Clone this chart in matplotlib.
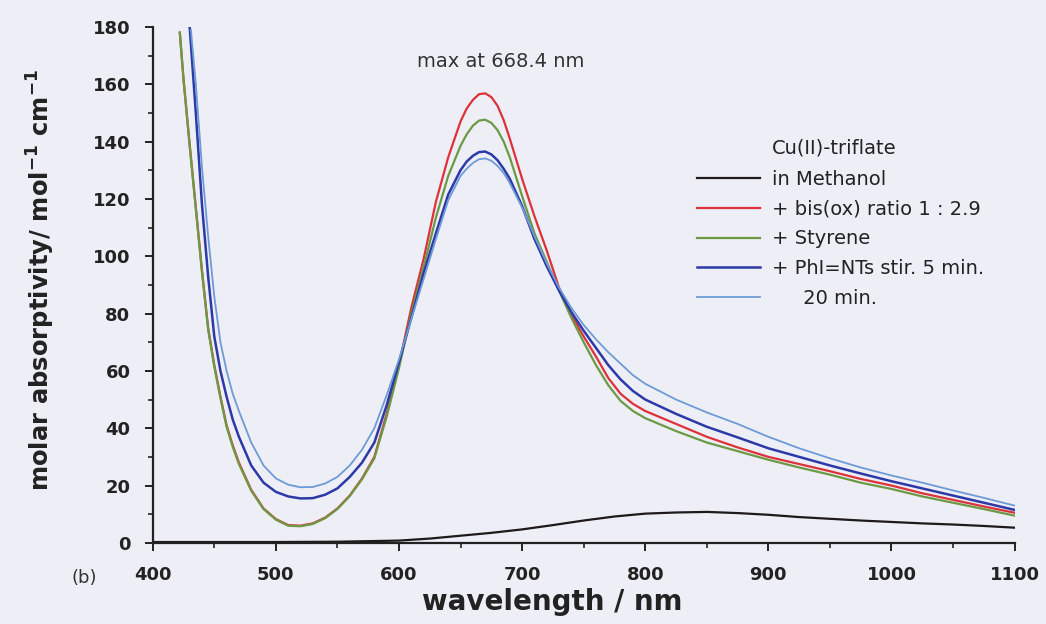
import matplotlib
matplotlib.use("Agg")
import matplotlib.pyplot as plt
from matplotlib.ticker import MultipleLocator

plt.rcParams['font.family'] = ['DejaVu Sans']
plt.rcParams['mathtext.fontset'] = 'dejavusans'
plt.rcParams['mathtext.default'] = 'bf'

# spectra (wavelength nm, molar absorptivity)
wl_black = [400, 450, 500, 550, 600, 625, 650, 675, 700, 725, 750, 775, 800,
            825, 850, 875, 900, 925, 950, 975, 1000, 1025, 1050, 1075, 1100]
eps_black = [0.3, 0.3, 0.3, 0.4, 0.8, 1.5, 2.5, 3.5, 4.7, 6.2, 7.8, 9.2, 10.2,
             10.6, 10.8, 10.4, 9.8, 9.0, 8.4, 7.8, 7.3, 6.8, 6.4, 5.9, 5.3]

# common grid from 600 nm on
wl_tail = [600, 610, 620, 630, 640, 650, 655, 660, 665, 670, 675, 680, 685, 690,
           700, 710, 720, 730, 740, 750, 760, 770, 780, 790, 800, 825, 850, 875,
           900, 925, 950, 975, 1000, 1025, 1050, 1075, 1100]

wl_red_left = [422, 425, 430, 435, 440, 445, 450, 455, 460, 465, 470, 480, 490,
               500, 510, 520, 530, 540, 550, 560, 570, 580, 590]
eps_red_left = [178, 162, 139, 117, 95, 75, 62, 51, 41, 34, 28, 18.5, 12,
                8.3, 6.2, 6, 6.8, 8.8, 12, 16.5, 22.5, 30, 45]
eps_red_tail = [62, 82, 99, 119, 134.5, 147, 151.5, 154.5, 156.5, 156.8, 155.5, 152.5, 147.5, 141,
                127, 114, 102, 89, 79.5, 72, 65, 57.5, 52, 48.5, 46, 41.5, 37, 33.3,
                30, 27.5, 25, 22.3, 20, 17.3, 15, 12.7, 10.5]

wl_green_left = wl_red_left
eps_green_left = [178, 161.5, 138.5, 116.5, 94.5, 74.5, 61.5, 50.5, 40.5, 33.5, 27.5, 18.2, 11.8,
                  8.1, 6.0, 5.8, 6.6, 8.6, 11.8, 16.3, 22.2, 29.5, 44]
eps_green_tail = [61, 80, 96, 113.5, 128, 138.5, 142.5, 145.5, 147.3, 147.6, 146.5, 144, 140, 134.5,
                  121, 108, 98, 88, 78.5, 70, 62, 55, 49.5, 46, 43.5, 39, 35, 32,
                  29, 26.3, 23.8, 21, 18.8, 16.2, 14, 11.8, 9.5]

wl_blue_left = [430, 435, 440, 445, 450, 455, 460, 465, 470, 480, 490, 500, 510,
                520, 530, 540, 550, 560, 570, 580, 590]
eps_blue_left = [180, 150, 118, 93, 72, 60, 51, 43, 37, 27, 21, 17.8, 16.2,
                 15.5, 15.6, 16.8, 19, 23, 28, 35, 48]
eps_blue_tail = [63, 78.5, 94, 108, 121.5, 130, 133, 135, 136.3, 136.5, 135.5, 133.5, 130.5, 127,
                 117.5, 106, 96.5, 88, 80.5, 74, 68, 62, 57, 53, 50, 45, 40.5, 36.8,
                 33, 30, 27, 24.2, 21.5, 19, 16.5, 14, 11.5]

wl_lblue_left = [431, 435, 440, 445, 450, 455, 460, 465, 470, 480, 490, 500, 510,
                 520, 530, 540, 550, 560, 570, 580, 590]
eps_lblue_left = [179, 160, 131, 107, 86, 70, 60, 52, 46, 35, 27, 22.5, 20.3,
                  19.4, 19.5, 20.7, 23, 27, 32.5, 40, 51.5]
eps_lblue_tail = [64, 78, 92, 106, 119.5, 128, 130.5, 132.5, 133.8, 134.1, 133.3, 131.5, 129, 125.5,
                  117, 107, 97.5, 89, 82, 76, 71, 66.5, 62.5, 58.5, 55.5, 50, 45.5, 41.5,
                  37, 33, 29.5, 26.3, 23.5, 21, 18.3, 15.7, 13]

labels = ['in Methanol', '+ bis(ox) ratio 1 : 2.9', '+ Styrene',
          '+ PhI=NTs stir. 5 min.', '     20 min.']

bg = '#eeeef6'
ink = '#222222'
fig = plt.figure(figsize=(10.46, 6.24), dpi=100, facecolor=bg)
ax = fig.add_axes([0.146, 0.130, 0.824, 0.827])
ax.set_facecolor(bg)

ax.plot(wl_black, eps_black, color='#1e1a1a', lw=1.6, label=labels[0])
ax.plot(wl_red_left + wl_tail, eps_red_left + eps_red_tail, color='#dc3238', lw=1.6, label=labels[1])
ax.plot(wl_green_left + wl_tail, eps_green_left + eps_green_tail, color='#6b9a45', lw=1.6, label=labels[2])
ax.plot(wl_blue_left + wl_tail, eps_blue_left + eps_blue_tail, color='#2c3aa8', lw=1.8, label=labels[3])
ax.plot(wl_lblue_left + wl_tail, eps_lblue_left + eps_lblue_tail, color='#6e9ad6', lw=1.3, label=labels[4])

ax.set_xlim(400, 1100)
ax.set_ylim(0, 180)
ax.xaxis.set_major_locator(MultipleLocator(100))
ax.xaxis.set_minor_locator(MultipleLocator(50))
ax.yaxis.set_major_locator(MultipleLocator(20))
ax.yaxis.set_minor_locator(MultipleLocator(10))

for s in ['top', 'right']:
    ax.spines[s].set_visible(False)
for s in ['left', 'bottom']:
    ax.spines[s].set_linewidth(1.6)
    ax.spines[s].set_color(ink)

ax.tick_params(which='major', direction='out', length=6, width=1.4, colors=ink, labelsize=13)
ax.tick_params(which='minor', direction='out', length=3.5, width=1.2, colors=ink)
ax.tick_params(axis='x', which='major', pad=11)
ax.tick_params(axis='y', which='major', pad=10)
for lab in ax.get_xticklabels() + ax.get_yticklabels():
    lab.set_fontweight('bold')

ax.set_xlabel('wavelength / nm', fontsize=20, fontweight='bold', color=ink)
ax.xaxis.set_label_coords(0.464, -0.088)
ax.set_ylabel('molar absorptivity/ mol$^{-1}$ cm$^{-1}$', fontsize=17.5, fontweight='bold', color=ink)
ax.yaxis.set_label_coords(-0.111, 0.51)

ax.text(682.8, 167.8, 'max at 668.4 nm', ha='center', va='center', fontsize=14, color='#333333')
fig.text(0.081, 0.073, '(b)', ha='center', va='center', fontsize=13, color='#333333')
fig.text(772 / 1046, 1 - 148 / 624, 'Cu(II)-triflate', ha='left', va='center', fontsize=14, color=ink)

leg = ax.legend(loc='upper left', bbox_to_anchor=(697 / 1046, 1 - 170 / 624),
                bbox_transform=fig.transFigure, frameon=False, fontsize=14,
                handlelength=3.25, handletextpad=0.6, labelspacing=0.55, borderpad=0,
                borderaxespad=0)
for t in leg.get_texts():
    t.set_color(ink)

fig.savefig('out.png', dpi=100, facecolor=bg)
